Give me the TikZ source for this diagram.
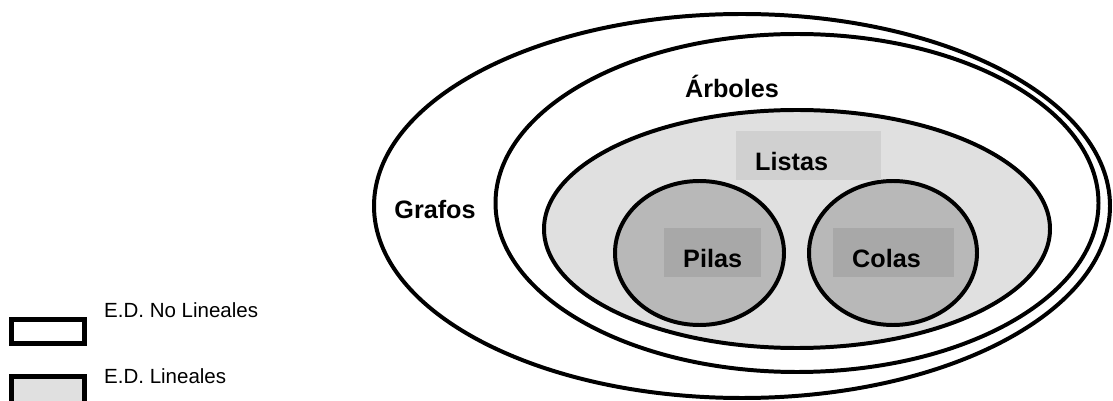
\documentclass[tikz,border=0pt]{standalone}
\usepackage{fontspec}
\setmainfont{Liberation Sans}
\definecolor{listas}{HTML}{E0E0E0}
\definecolor{listasbox}{HTML}{D0D0D0}
\definecolor{pila}{HTML}{B8B8B8}
\definecolor{pilabox}{HTML}{A8A8A8}
\tikzset{
  conj/.style={draw,line width=3.4pt},
  etiq/.style={font=\bfseries\fontsize{21.5}{24}\selectfont,inner sep=0pt},
  caja/.style={etiq,anchor=north west,inner xsep=0.57cm,inner ysep=0pt,align=left,text height=0.9cm,text depth=0pt,minimum height=1.47cm},
  leyenda/.style={font=\fontsize{17.5}{20}\selectfont,inner sep=0pt,anchor=base west}
}
\begin{document}
\begin{tikzpicture}[x=0.03cm,y=-0.03cm]
\useasboundingbox (0,0) rectangle (1113,401);
\draw[conj,fill=white] (742,206) ellipse (368 and 192);
\draw[conj,fill=white] (797,203) ellipse (301.5 and 169);
\draw[conj,fill=listas] (797,229) ellipse (253 and 119);
\draw[conj,fill=pila] (699.5,253) ellipse (84.5 and 72);
\draw[conj,fill=pila] (893,253) ellipse (84 and 72);

\node[caja,fill=listasbox,text width=3.21cm] (listas) at (736,131) {Listas};
\node[caja,fill=pilabox,text width=1.77cm] (pilas) at (664,228) {Pilas};
\node[caja,fill=pilabox,text width=2.49cm] (colas) at (833,228) {Colas};
\node[etiq,anchor=base] (grafos) at (435,219) {Grafos};
\node[etiq,anchor=base] (arboles) at (732,98) {Árboles};

% leyenda
\draw[conj,line width=4pt,fill=white] (11.5,319.5) rectangle (84.5,343.5);
\draw[conj,line width=4pt,fill=listas] (11.5,376.5) rectangle (84.5,404);
\node[leyenda] (nolin) at (104,317) {E.D. No Lineales};
\node[leyenda] (lin) at (104,383) {E.D. Lineales};
\end{tikzpicture}
\end{document}
